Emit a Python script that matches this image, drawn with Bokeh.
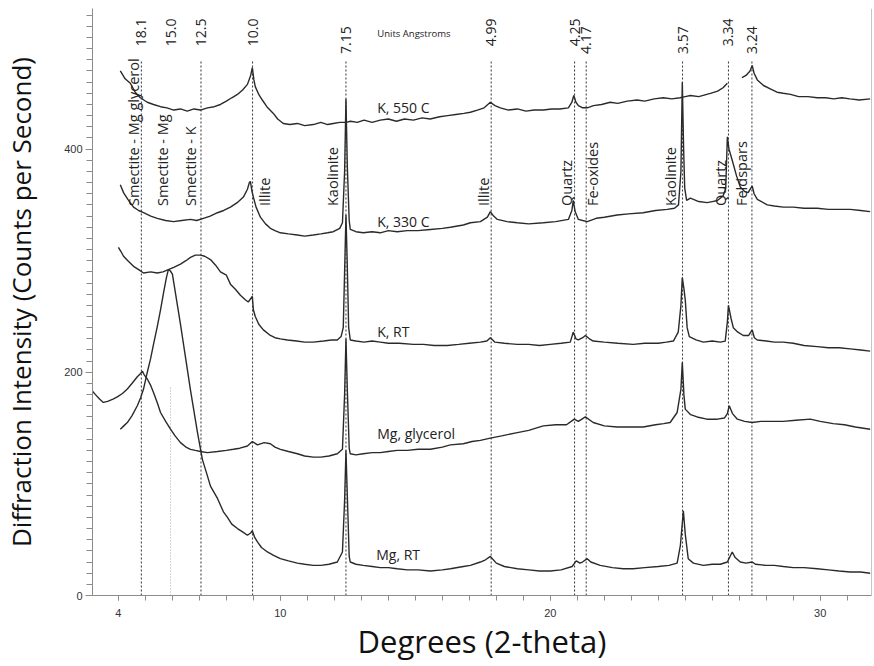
import math
from bokeh.plotting import figure
from bokeh.models import Range1d, FixedTicker, Span
from bokeh.core.properties import value
from bokeh.embed import file_html
from bokeh.resources import INLINE

# ---------------- data ----------------
k550_x = [4.07, 4.25, 4.44, 4.62, 4.81, 5.07, 5.3, 5.56, 5.8, 6.05, 6.30, 6.55, 6.8, 7.04, 7.3, 7.55, 7.78,
          8.0, 8.2, 8.41, 8.6, 8.78, 8.9, 8.96, 9.02, 9.07, 9.2, 9.33, 9.5, 9.74, 9.9, 10.11, 10.35, 10.63,
          10.9, 11.22, 11.5, 11.75, 11.96, 12.2, 12.43, 12.6, 12.85, 13.1, 13.4, 13.7, 14.0, 14.3, 14.6,
          14.93, 15.25, 15.55, 15.9, 16.2, 16.5, 16.8, 17.04, 17.3, 17.55, 17.78, 17.95, 18.15, 18.45,
          18.78, 19.1, 19.4, 19.74, 20.05, 20.35, 20.67, 20.8, 20.87, 20.95, 21.04, 21.2, 21.37, 21.6,
          21.9, 22.22, 22.5, 22.85, 23.22, 23.5, 23.85, 24.19, 24.5, 24.81, 25.0, 25.19, 25.5, 25.93,
          26.2, 26.4, 26.56, float("nan"), 27.1, 27.25, 27.4, 27.48, 27.55, 27.67, 27.9, 28.15, 28.4,
          28.63, 28.9, 29.2, 29.55, 29.89, 30.2, 30.5, 30.8, 31.1, 31.45, 31.85]
k550_y = [470, 463, 459, 451, 446, 442, 440, 438, 437, 435, 436, 434, 436, 435, 437, 438, 440,
          443, 446, 449, 453, 458, 466, 473, 462, 456, 449, 444, 438, 432, 427, 423, 422, 423,
          421, 422, 424, 422, 423, 424, 424, 425, 424, 426, 424, 426, 427, 425, 427,
          426, 428, 427, 429, 430, 431, 432, 433, 435, 437, 442, 439, 437, 435,
          436, 434, 435, 435, 436, 436, 437, 442, 448, 442, 439, 437, 437, 439,
          440, 442, 441, 443, 444, 443, 445, 446, 445, 446, 447, 448, 447, 450,
          452, 455, 459, float("nan"), 464, 466, 470, 475, 468, 462, 457, 454, 451,
          450, 449, 447, 447, 446, 446, 445, 446, 445, 444, 445]

k330_x = [4.07, 4.19, 4.35, 4.56, 4.75, 4.93, 5.2, 5.44, 5.75, 6.04, 6.35, 6.67, 6.9, 7.15, 7.4, 7.67,
          7.9, 8.15, 8.4, 8.63, 8.78, 8.85, 8.89, 8.95, 9.0, 9.1, 9.26, 9.45, 9.63, 9.8, 10.0, 10.3,
          10.63, 10.9, 11.22, 11.5, 11.75, 11.96, 12.2, 12.3, 12.38, 12.43, 12.48, 12.55, 12.59, 12.8,
          13.07, 13.4, 13.7, 14.0, 14.33, 14.7, 15.1, 15.56, 16.0, 16.3, 16.78, 17.04, 17.41, 17.67,
          17.78, 17.9, 18.04, 18.4, 18.78, 19.2, 19.74, 20.2, 20.67, 20.8, 20.85, 20.92, 21.04, 21.2,
          21.37, 21.7, 22.0, 22.48, 22.9, 23.44, 23.9, 24.33, 24.6, 24.75, 24.84, 24.89, 24.94, 24.98,
          25.05, 25.19, 25.5, 25.81, 26.0, 26.19, 26.4, 26.5, 26.56, 26.62, 26.74, 26.9, 27.04, 27.2,
          27.33, 27.48, 27.55, 27.67, 28.04, 28.3, 28.63, 29.0, 29.4, 29.89, 30.3, 30.7, 31.11, 31.5,
          31.85]
k330_y = [368, 361, 355, 348, 345, 343, 340, 338, 336, 335, 336, 337, 336, 338, 340, 343,
          345, 348, 352, 357, 364, 370, 371, 362, 357, 348, 339, 333, 329, 327, 325, 324,
          323, 322, 323, 324, 325, 326, 329, 334, 380, 445, 385, 336, 328, 326,
          325, 326, 325, 327, 326, 327, 327, 328, 329, 330, 332, 334, 335, 339,
          344, 340, 337, 335, 334, 333, 334, 335, 337, 345, 354, 344, 337, 336,
          335, 338, 339, 341, 342, 343, 345, 346, 347, 350, 380, 460, 400, 365,
          354, 356, 353, 352, 353, 354, 358, 365, 411, 400, 390, 376, 366, 362,
          361, 367, 360, 355, 350, 349, 348, 348, 347, 347, 346, 346, 346, 345,
          344]

krt_x = [4.0, 4.1, 4.19, 4.35, 4.56, 4.75, 4.93, 5.2, 5.44, 5.65, 5.85, 6.05, 6.30, 6.5, 6.67, 6.85,
         7.04, 7.2, 7.41, 7.6, 7.78, 8.0, 8.15, 8.35, 8.52, 8.7, 8.81, 8.96, 9.0, 9.07, 9.2, 9.37,
         9.63, 9.8, 10.0, 10.26, 10.6, 10.9, 11.22, 11.6, 11.9, 12.11, 12.25, 12.33, 12.38, 12.43,
         12.48, 12.53, 12.59, 12.8, 13.1, 13.4, 13.7, 14.0, 14.4, 14.93, 15.3, 15.7, 16.19, 16.6,
         17.0, 17.41, 17.65, 17.78, 17.95, 18.3, 18.78, 19.2, 19.6, 20.0, 20.4, 20.74, 20.85, 20.95,
         21.04, 21.2, 21.3, 21.45, 21.59, 22.0, 22.5, 23.07, 23.5, 24.0, 24.3, 24.56, 24.74, 24.84,
         24.89, 24.95, 25.0, 25.07, 25.15, 25.4, 25.67, 26.0, 26.3, 26.48, 26.56, 26.6, 26.7, 26.78,
         26.95, 27.15, 27.35, 27.48, 27.56, 27.67, 28.0, 28.3, 28.63, 29.0, 29.4, 29.89, 30.3, 30.7,
         31.11, 31.5, 31.85]
krt_y = [312, 308, 304, 300, 295, 292, 289, 290, 289, 290, 292, 294, 297, 300, 303, 305,
         305, 304, 301, 296, 290, 287, 279, 274, 269, 265, 263, 268, 256, 250, 243, 238,
         233, 231, 230, 229, 228, 227, 227, 228, 229, 229, 232, 240, 290, 341,
         295, 240, 229, 228, 227, 228, 227, 226, 226, 225, 225, 224, 224, 225,
         226, 227, 228, 231, 227, 226, 225, 225, 224, 225, 226, 227, 236, 230,
         229, 231, 233, 230, 228, 227, 226, 225, 226, 226, 227, 228, 236, 260,
         285, 275, 265, 240, 232, 229, 227, 228, 227, 228, 245, 260, 248, 240,
         236, 233, 233, 238, 231, 229, 228, 227, 227, 226, 224, 223, 222, 222,
         221, 220, 219]

mggly_x = [3.04, 3.15, 3.3, 3.44, 3.6, 3.8, 3.96, 4.15, 4.33, 4.5, 4.70, 4.82, 4.89, 4.95, 5.07, 5.2,
           5.30, 5.45, 5.56, 5.75, 5.93, 6.1, 6.30, 6.5, 6.67, 6.85, 7.04, 7.3, 7.67, 8.0, 8.26, 8.5,
           8.78, 8.96, 9.15, 9.4, 9.63, 9.8, 10.0, 10.3, 10.63, 10.9, 11.22, 11.5, 11.8, 12.11, 12.3,
           12.38, 12.43, 12.48, 12.55, 12.59, 12.8, 13.07, 13.4, 13.7, 14.0, 14.33, 14.7, 15.1, 15.56,
           16.0, 16.3, 16.78, 17.1, 17.41, 17.78, 18.2, 18.78, 19.2, 19.74, 20.2, 20.6, 20.89, 21.04,
           21.30, 21.59, 22.0, 22.48, 23.0, 23.44, 23.9, 24.2, 24.44, 24.7, 24.84, 24.89, 24.95, 25.0,
           25.2, 25.44, 25.8, 26.19, 26.45, 26.56, 26.63, 26.75, 26.93, 27.2, 27.48, 27.8, 28.2, 28.63,
           29.1, 29.63, 30.0, 30.48, 30.9, 31.3, 31.85]
mggly_y = [183, 180, 176, 173, 174, 176, 178, 181, 185, 190, 196, 199, 201, 198, 194, 188,
           182, 172, 164, 156, 149, 143, 137, 133, 131, 130, 129, 128, 129, 130, 131, 132,
           134, 138, 135, 137, 136, 133, 131, 129, 127, 125, 124, 124, 125, 127, 131,
           180, 230, 185, 132, 127, 126, 127, 128, 128, 129, 130, 130, 131, 131,
           133, 135, 136, 138, 139, 141, 143, 146, 148, 152, 153, 153, 158, 156,
           160, 155, 152, 151, 151, 151, 153, 154, 155, 164, 185, 209, 180, 167,
           162, 160, 158, 158, 159, 163, 170, 163, 158, 156, 155, 156, 156, 156,
           157, 158, 156, 154, 153, 151, 149]

mgrt_x = [4.07, 4.2, 4.33, 4.5, 4.70, 4.82, 4.93, 5.05, 5.19, 5.3, 5.44, 5.56, 5.67, 5.78, 5.85, 5.92,
          6.0, 6.3, 6.67, 6.93, 7.11, 7.3, 7.41, 7.67, 7.89, 8.04, 8.2, 8.41, 8.6, 8.78, 8.9, 8.96,
          9.05, 9.15, 9.3, 9.52, 9.75, 10.0, 10.3, 10.63, 10.9, 11.22, 11.5, 11.8, 12.11, 12.3, 12.38,
          12.43, 12.48, 12.55, 12.59, 12.8, 13.07, 13.4, 13.7, 14.0, 14.33, 14.7, 15.1, 15.56, 16.0,
          16.3, 16.78, 17.04, 17.41, 17.6, 17.78, 18.0, 18.3, 18.78, 19.2, 19.6, 20.0, 20.4, 20.81,
          20.96, 21.1, 21.19, 21.37, 21.5, 21.85, 22.3, 22.7, 23.07, 23.5, 24.0, 24.4, 24.70, 24.82,
          24.93, 25.0, 25.11, 25.3, 25.67, 26.0, 26.3, 26.56, 26.74, 26.85, 27.04, 27.25, 27.48, 27.6,
          28.0, 28.3, 28.63, 29.0, 29.4, 29.89, 30.3, 30.7, 31.11, 31.5, 31.85]
mgrt_y = [149, 152, 155, 161, 170, 177, 185, 198, 212, 225, 241, 256, 271, 285, 292, 291,
          288, 243, 184, 146, 122, 107, 98, 87, 75, 70, 64, 60, 57, 54, 56, 58,
          52, 48, 43, 39, 36, 33, 31, 29, 28, 27, 27, 28, 30, 39, 85,
          130, 90, 35, 30, 28, 27, 26, 25, 25, 24, 23, 23, 22, 23,
          24, 26, 27, 30, 32, 35, 29, 26, 24, 23, 22, 22, 23, 26,
          31, 29, 30, 33, 30, 27, 25, 24, 24, 25, 26, 27, 29, 45,
          76, 55, 33, 29, 27, 28, 28, 30, 39, 34, 30, 29, 30, 28,
          27, 27, 26, 25, 25, 24, 23, 22, 21, 21, 20]

curve_names = ["K, 550 C", "K, 330 C", "K, RT", "Mg, glycerol", "Mg, RT"]
curve_label_x = [13.59, 13.59, 13.59, 13.59, 13.55]
curve_label_y = [437, 335, 237, 145, 37]

d_pos = [4.85, 5.93, 7.06, 8.97, 12.43, 17.81, 20.90, 21.33, 24.90, 26.60, 27.47]
d_labels = ["18.1", "15.0", "12.5", "10.0", "7.15", "4.99", "4.25", "4.17", "3.57", "3.34", "3.24"]
d_line_top = [479, 187, 479, 479, 479, 479, 479, 479, 479, 479, 479]
d_label_top = [517, 517, 517, 517, 510, 517, 517, 510, 510, 517, 510]

mineral_names = ["Smectite - Mg glycerol", "Smectite - Mg", "Smectite - K", "Illite", "Kaolinite",
                 "Illite", "Quartz", "Fe-oxides", "Kaolinite", "Quartz", "Feldspars"]
mineral_x = [4.56, 5.63, 6.67, 9.41, 11.93, 17.52, 20.59, 21.56, 24.44, 26.30, 27.07]
mineral_bottom = 349

x_ticks = [4, 10, 20, 30]
y_ticks = [0, 200, 400]

# ---------------- figure ----------------
X0, X1 = 3.04, 31.9
p = figure(width=872, height=664, x_range=Range1d(X0, X1), y_range=Range1d(0, 526),
           output_backend="svg", toolbar_location=None,
           min_border_left=92, min_border_right=1, min_border_top=8, min_border_bottom=67)
p.outline_line_color = None
p.xgrid.visible = False
p.ygrid.visible = False
p.background_fill_color = "white"
p.border_fill_color = "white"

axis_col = "#8c8c8c"
for ax in (p.xaxis[0], p.yaxis[0]):
    ax.axis_line_color = axis_col
    ax.major_tick_line_color = axis_col
    ax.minor_tick_line_color = axis_col
    ax.major_tick_in = 0
    ax.minor_tick_in = 0
    ax.major_label_text_font = "Liberation Sans"
    ax.major_label_text_font_size = "11px"
    ax.major_label_text_color = "#333333"
    ax.axis_label_text_font = "Open Sans"
    ax.axis_label_text_font_style = "normal"
    ax.axis_label_text_color = "#111111"

p.xaxis.ticker = FixedTicker(ticks=x_ticks, minor_ticks=list(range(3, 32)))
p.yaxis.ticker = FixedTicker(ticks=y_ticks, minor_ticks=list(range(0, 530, 10)))
p.xaxis.major_tick_out = 5
p.xaxis.minor_tick_out = 5
p.yaxis.major_tick_out = 7
p.yaxis.minor_tick_out = 6
p.xaxis.major_label_standoff = 8
p.yaxis.major_label_standoff = 3
p.xaxis.axis_label = "Degrees (2-theta)"
p.yaxis.axis_label = "Diffraction Intensity (Counts per Second)"
p.xaxis.axis_label_text_font_size = "31px"
p.yaxis.axis_label_text_font_size = "26px"
p.xaxis.axis_label_standoff = 0
p.yaxis.axis_label_standoff = 22

p.add_layout(Span(location=X1, dimension="height", line_color=axis_col, line_width=1))

# reference lines
dark_idx = [i for i in range(len(d_pos)) if d_labels[i] != "15.0"]
light_idx = [i for i in range(len(d_pos)) if d_labels[i] == "15.0"]
p.segment(x0=[d_pos[i] for i in dark_idx], y0=0, x1=[d_pos[i] for i in dark_idx],
          y1=[d_line_top[i] for i in dark_idx], line_color="#333333", line_width=1, line_dash="2 2")
p.segment(x0=[d_pos[i] for i in light_idx], y0=0, x1=[d_pos[i] for i in light_idx],
          y1=[d_line_top[i] for i in light_idx], line_color="#aaaaaa", line_width=1, line_dash="1 2")

# curves
for xs, ys in ((k550_x, k550_y), (k330_x, k330_y), (krt_x, krt_y), (mggly_x, mggly_y), (mgrt_x, mgrt_y)):
    p.line(xs, ys, line_color="#2a2a2a", line_width=1.4)

# texts
p.text(x=d_pos, y=d_label_top, text=d_labels, angle=math.pi / 2, text_align="right",
       text_baseline="middle", text_font=value("Open Sans"), text_font_size="14px", text_color="#222222")
p.text(x=mineral_x, y=[mineral_bottom] * len(mineral_x), text=mineral_names, angle=math.pi / 2,
       text_align="left", text_baseline="middle", text_font=value("Open Sans"),
       text_font_size="14.5px", text_color="#222222")
p.text(x=curve_label_x, y=curve_label_y, text=curve_names, text_align="left", text_baseline="middle",
       text_font=value("Open Sans"), text_font_size="14px", text_color="#222222")
p.text(x=[13.59], y=[504], text=["Units Angstroms"], text_align="left", text_baseline="middle",
       text_font=value("Open Sans"), text_font_size="9.5px", text_color="#222222")

open("out.html", "w").write(file_html(p, INLINE))
